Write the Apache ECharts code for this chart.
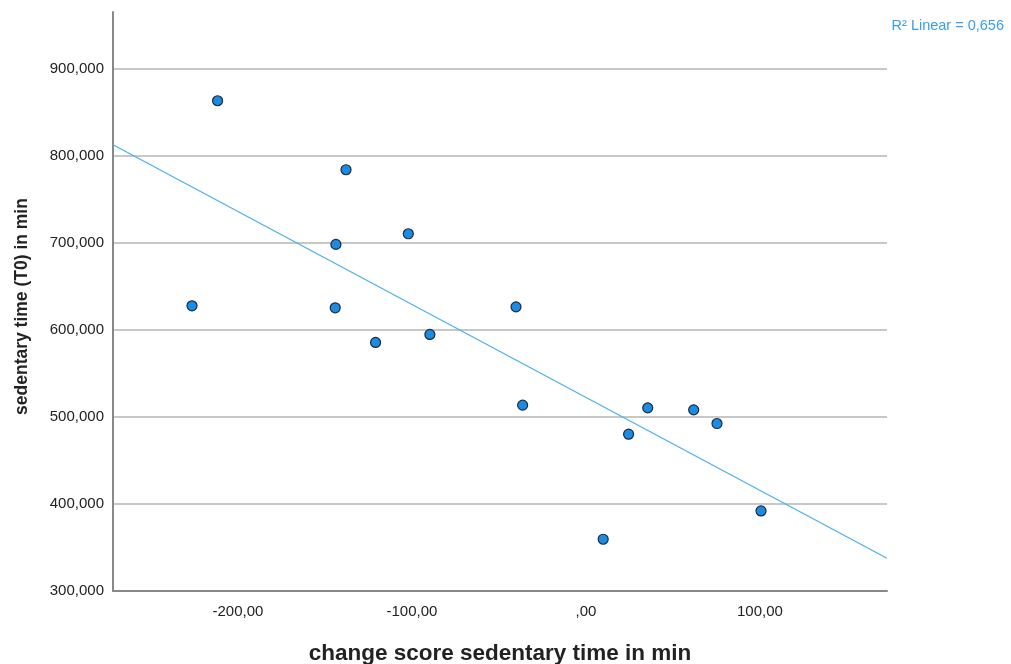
<!DOCTYPE html>
<html>
<head>
<meta charset="utf-8">
<script src="https://cdn.jsdelivr.net/npm/echarts@6/dist/echarts.min.js"></script>
<style>html,body{margin:0;padding:0;background:#fff}#c{width:1011px;height:664px}</style>
</head>
<body>
<div id="c"></div>
<script>
// change score sedentary time (min)
const changeScore = [-211.7, -137.9, -102.1, -143.7, -226.4, -144.1, -120.9, -89.7, -40.2, -36.4, 35.5, 61.9, 24.5, 75.3, 100.6, 9.9];
// sedentary time T0 (min)
const sedentaryT0 = [863.5, 784.2, 710.6, 698.4, 627.8, 625.5, 585.7, 594.9, 626.6, 513.6, 510.5, 508.2, 480.2, 492.5, 392.0, 359.5];
// fit line endpoints
const fitX = [-271.8, 173.0];
const fitY = [813.0, 337.6];
const r2Label = 'R² Linear = 0,656';

const points = changeScore.map((x, i) => [x, sedentaryT0[i]]);
const fitLine = fitX.map((x, i) => [x, fitY[i]]);

const chart = echarts.init(document.getElementById('c'), null, {renderer: 'canvas'});
const fmtX = v => { let s = v.toFixed(2).replace('.', ','); return s.replace(/^0,/, ',').replace(/^-0,/, '-,'); };
const fmtY = v => v.toFixed(3).replace('.', ',');
const FF = 'Liberation Sans, Arial, sans-serif';
chart.setOption({
  animation: false,
  backgroundColor: '#ffffff',
  textStyle: {fontFamily: FF},
  title: {
    text: r2Label, right: 2, top: 13,
    textStyle: {fontSize: 14.5, fontWeight: 'normal', color: '#3a9ee8', fontFamily: FF}
  },
  grid: {left: 113, right: 124, top: 12, bottom: 73, containLabel: false, outerBoundsMode: 'none'},
  xAxis: {
    type: 'value', min: -271.8, max: 173,
    name: 'change score sedentary time in min', nameLocation: 'middle', nameGap: 51,
    nameTextStyle: {fontSize: 22.5, fontWeight: 'bold', color: '#222', fontFamily: FF},
    axisLine: {show: true, onZero: false, lineStyle: {color: '#888', width: 2}},
    axisTick: {show: false},
    splitLine: {show: false},
    axisLabel: {formatter: fmtX, fontSize: 15, color: '#222', margin: 13, showMinLabel: false, showMaxLabel: false}
  },
  yAxis: {
    type: 'value', min: 300, max: 965.5, interval: 100,
    name: 'sedentary time (T0) in min', nameLocation: 'middle', nameGap: 82,
    nameTextStyle: {fontSize: 17.5, fontWeight: 'bold', color: '#222', fontFamily: FF, padding: [0, 10, 0, 0]},
    axisLine: {show: true, onZero: false, lineStyle: {color: '#888', width: 2}},
    axisTick: {show: false},
    splitLine: {show: true, showMaxLine: false, lineStyle: {color: '#c8c8c8', width: 2}},
    axisLabel: {formatter: fmtY, fontSize: 15, color: '#222', margin: 9, showMaxLabel: false}
  },
  series: [
    {
      type: 'line', data: fitLine, symbol: 'none', silent: true,
      lineStyle: {color: '#4ab0ee', width: 1.2}, z: 2
    },
    {
      type: 'scatter', data: points, symbol: 'circle', symbolSize: 10,
      itemStyle: {color: '#1a8ce6', opacity: 1, borderColor: '#1f2a36', borderWidth: 1.2}, z: 3
    }
  ]
});
</script>
</body>
</html>
